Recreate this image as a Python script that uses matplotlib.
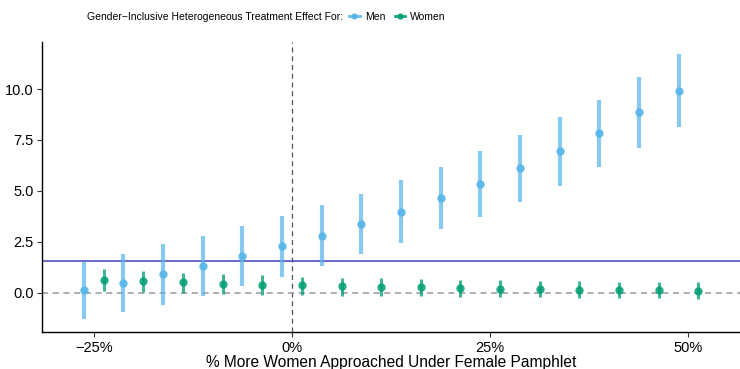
import matplotlib
matplotlib.use("Agg")
import matplotlib.pyplot as plt
from matplotlib.lines import Line2D
from matplotlib.ticker import FuncFormatter, FixedLocator
import numpy as np

plt.rcParams['font.family'] = ['Liberation Sans', 'DejaVu Sans']

# Share of additional women approached (percent), one estimate per step
pct_more_women = [-25, -20, -15, -10, -5, 0, 5, 10, 15, 20, 25, 30, 35, 40, 45, 50]

men_est = [0.12, 0.48, 0.90, 1.33, 1.80, 2.28, 2.80, 3.38, 3.98, 4.64, 5.34, 6.11, 6.95, 7.85, 8.85, 9.93]
men_lo = [-1.31, -0.93, -0.60, -0.16, 0.30, 0.79, 1.31, 1.89, 2.43, 3.11, 3.70, 4.47, 5.26, 6.19, 7.10, 8.16]
men_hi = [1.52, 1.90, 2.39, 2.80, 3.29, 3.78, 4.31, 4.85, 5.54, 6.16, 6.98, 7.72, 8.62, 9.47, 10.58, 11.71]

women_est = [0.62, 0.56, 0.51, 0.44, 0.39, 0.35, 0.31, 0.28, 0.25, 0.21, 0.18, 0.16, 0.15, 0.13, 0.12, 0.09]
women_lo = [0.10, 0.05, -0.03, -0.06, -0.11, -0.11, -0.15, -0.16, -0.18, -0.20, -0.22, -0.24, -0.25, -0.27, -0.28, -0.30]
women_hi = [1.18, 1.08, 0.98, 0.92, 0.85, 0.79, 0.74, 0.71, 0.68, 0.64, 0.61, 0.58, 0.56, 0.54, 0.52, 0.50]

reference_effect = 1.57

x_ticks = [-25, 0, 25, 50]
y_ticks = [0.0, 2.5, 5.0, 7.5, 10.0]

men_color = '#56B4E9'
women_color = '#009E73'
dodge = 1.25
legend_size = 7.5

fig = plt.figure(figsize=(7.4, 3.69), dpi=100)
ax = fig.add_axes([0.057, 0.099, 0.943, 0.787])

x = np.array(pct_more_women, dtype=float)

# reference lines
ax.axvline(0, color='#555555', lw=0.9, ls=(0, (4, 3)), zorder=1)
ax.axhline(0, color='#999999', lw=1.1, ls=(0, (4, 3)), zorder=1)
ax.axhline(reference_effect, color='#4040C0', lw=1.1, zorder=1)

# men: point estimates with intervals
ax.vlines(x - dodge, men_lo, men_hi, color=men_color, alpha=0.7, lw=3.0, zorder=2)
ax.plot(x - dodge, men_est, 'o', color=men_color, ms=6, alpha=0.9, mec='none', zorder=3)

# women: point estimates with intervals
ax.vlines(x + dodge, women_lo, women_hi, color=women_color, alpha=0.75, lw=2.2, zorder=2)
ax.plot(x + dodge, women_est, 'o', color=women_color, ms=6, alpha=0.85, mec='none', zorder=3)

ax.set_xlim(-31.5, 56.5)
ax.set_ylim(-1.96, 12.31)

ax.xaxis.set_major_locator(FixedLocator(x_ticks))
ax.yaxis.set_major_locator(FixedLocator(y_ticks))
ax.xaxis.set_major_formatter(FuncFormatter(lambda v, p: f"{int(v)}%".replace('-', '\u2212')))
ax.yaxis.set_major_formatter(FuncFormatter(lambda v, p: f"{v:.1f}"))

for side in ['top', 'right']:
    ax.spines[side].set_visible(False)
for side in ['left', 'bottom']:
    ax.spines[side].set_linewidth(1.0)
    ax.spines[side].set_color('black')

ax.tick_params(axis='both', length=3.5, width=0.8, color='#333333', labelsize=10.5,
               labelcolor='black', pad=2.5)
ax.set_xlabel('% More Women Approached Under Female Pamphlet', fontsize=11.2, labelpad=0)

# legend across the top
fig.text(0.4635, 0.954, 'Gender\u2212Inclusive Heterogeneous Treatment Effect For:',
         ha='right', va='center', fontsize=legend_size)
handles = [
    Line2D([], [], color=men_color, lw=2.0, marker='o', ms=4.5, mec='none', alpha=0.9),
    Line2D([], [], color=women_color, lw=2.0, marker='o', ms=4.5, mec='none', alpha=0.9),
]
fig.legend(handles, ['Men', 'Women'], loc='center left', bbox_to_anchor=(0.472, 0.954),
           ncol=2, frameon=False, fontsize=legend_size,
           handlelength=1.0, handletextpad=0.5, columnspacing=0.9,
           borderaxespad=0, borderpad=0)

fig.savefig('out.png', dpi=100)
